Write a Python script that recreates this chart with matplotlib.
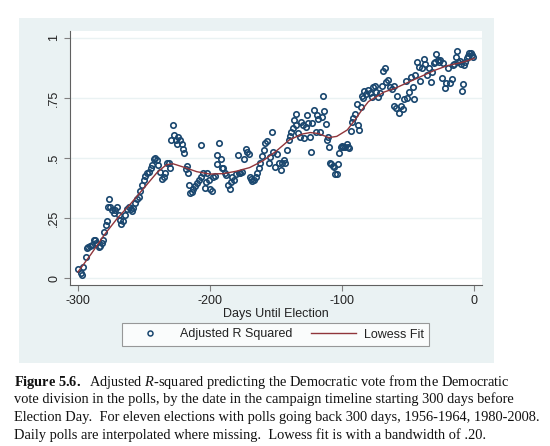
import matplotlib
matplotlib.use("Agg")
import matplotlib.pyplot as plt
from matplotlib.patches import Rectangle
from matplotlib.lines import Line2D

# daily adjusted R squared
days = [-300, -298, -297, -296, -294, -293, -292, -291, -289, -288, -287, -286, -284, -283,
        -282, -281, -280, -279, -278, -277.5, -276.5, -275.5, -274, -273, -272, -270.5, -269,
        -268, -267, -265.5, -264, -263, -261.5, -260, -259, -258, -256.5, -255, -254, -253,
        -251.5, -250, -249, -248, -246.5, -245, -244, -242.5, -241.5, -240, -239, -237.5,
        -236.5, -235, -234, -232.5, -231, -230, -229.5, -228, -227.5, -226, -225, -224,
        -222.5, -221, -220.5, -219.5, -218.5, -217.5, -217, -216, -215, -213.5, -212.5, -211,
        -210, -208.5, -207, -206.5, -205, -204, -203, -202, -201, -200, -198.5, -197.5, -196,
        -195, -194.5, -193, -192, -191, -190, -188.5, -187.5, -186, -185, -184, -183, -181.5,
        -180.5, -179, -178, -177, -175.5, -174.5, -173, -172, -170.5, -170, -169, -168, -167,
        -165.5, -164.5, -163, -162, -160.5, -159, -158, -157, -155.5, -154.5, -153, -152,
        -151, -149, -148, -146.5, -145.5, -144, -143, -141.5, -140.5, -139.5, -138.5, -137.5,
        -136.5, -135, -134.5, -133.5, -132, -131, -129.5, -128.5, -127, -126.5, -125.5, -124.5,
        -123.5, -122.5, -121, -120, -119, -118, -117, -115.5, -114.5, -113.5, -112.5, -111.5,
        -110.5, -110, -109, -108, -107, -106, -105, -104, -103, -102, -101, -100, -99, -98,
        -96.5, -95.5, -94.5, -93.5, -92.5, -91.5, -90.5, -89, -88, -87, -86, -85, -84, -83,
        -81.5, -80.5, -79, -77.5, -76.5, -75, -74, -72.5, -71.5, -70, -69, -67.5, -66.5, -65,
        -64, -62.5, -61, -60.5, -59, -58, -56.5, -55.5, -54, -53, -51.5, -50.5, -49, -48,
        -46.5, -45.5, -44.5, -43.5, -42, -41, -39.5, -38, -37, -35.5, -34.5, -33, -32, -30.5,
        -29.5, -28.5, -27.5, -26.5, -25.5, -24.5, -23.5, -22, -21, -19.5, -18, -17, -16, -15,
        -14, -13, -12, -11, -10, -9.5, -8.5, -7.5, -6.5, -5.5, -4.5, -3.5, -2.5, -1.5, -0.5]
adj_r2 = [0.036, 0.020, 0.012, 0.047, 0.086, 0.124, 0.128, 0.133, 0.138, 0.160, 0.158, 0.144,
          0.130, 0.133, 0.144, 0.160, 0.193, 0.220, 0.239, 0.294, 0.328, 0.294, 0.283, 0.272,
          0.283, 0.294, 0.262, 0.242, 0.225, 0.239, 0.262, 0.286, 0.294, 0.286, 0.281, 0.290,
          0.311, 0.328, 0.339, 0.364, 0.388, 0.408, 0.425, 0.436, 0.443, 0.457, 0.471, 0.494,
          0.499, 0.492, 0.471, 0.443, 0.411, 0.419, 0.436, 0.481, 0.478, 0.457, 0.575, 0.637,
          0.596, 0.575, 0.558, 0.586, 0.575, 0.558, 0.536, 0.519, 0.453, 0.467, 0.439, 0.388,
          0.353, 0.360, 0.369, 0.383, 0.394, 0.408, 0.422, 0.554, 0.439, 0.374, 0.401, 0.439,
          0.408, 0.369, 0.364, 0.419, 0.425, 0.475, 0.512, 0.561, 0.494, 0.457, 0.457, 0.436,
          0.429, 0.388, 0.369, 0.401, 0.422, 0.408, 0.433, 0.512, 0.439, 0.436, 0.443, 0.494,
          0.536, 0.526, 0.517, 0.422, 0.411, 0.406, 0.408, 0.419, 0.436, 0.457, 0.478, 0.508,
          0.533, 0.561, 0.572, 0.481, 0.506, 0.610, 0.526,
          0.464, 0.517, 0.481, 0.450, 0.478, 0.492, 0.478, 0.533, 0.575, 0.592, 0.610, 0.624,
          0.658, 0.638, 0.683, 0.603, 0.586, 0.651, 0.638, 0.582, 0.631, 0.679, 0.644, 0.586,
          0.526, 0.644, 0.700, 0.610, 0.679, 0.661, 0.610, 0.669, 0.758, 0.697, 0.642, 0.575,
          0.586, 0.544, 0.481, 0.475, 0.467, 0.461, 0.433, 0.433, 0.475, 0.519, 0.547, 0.550,
          0.544, 0.547, 0.558, 0.547, 0.540, 0.614, 0.651, 0.665, 0.683, 0.725, 0.638, 0.617,
          0.714, 0.758, 0.749, 0.781, 0.767, 0.783, 0.772, 0.756, 0.797, 0.800, 0.776, 0.753,
          0.769, 0.800, 0.864, 0.874, 0.818, 0.825, 0.794, 0.786, 0.800, 0.717, 0.707, 0.758,
          0.686, 0.717, 0.703, 0.744, 0.822, 0.749, 0.776, 0.836, 0.797, 0.744, 0.846, 0.901,
          0.881, 0.822, 0.874, 0.911, 0.892, 0.846, 0.874, 0.818, 0.860, 0.894, 0.901, 0.933,
          0.908, 0.901, 0.908, 0.832, 0.897, 0.790, 0.811, 0.874, 0.811, 0.828, 0.888, 0.892,
          0.919, 0.947, 0.901, 0.906, 0.892, 0.781, 0.808, 0.888, 0.901, 0.915, 0.925, 0.936,
          0.939, 0.929, 0.922]

# lowess fit (bandwidth .20)
fit_days = [-300, -290, -280, -270, -260, -250, -240, -233, -228, -220, -210, -200, -190,
            -180, -170, -160, -150, -140, -130, -124, -118, -110, -104, -96, -90, -85, -80,
            -75, -68, -60, -50, -40, -30, -20, -10, -5, 0]
fit_vals = [0.025, 0.100, 0.180, 0.250, 0.310, 0.375, 0.440, 0.472, 0.476, 0.462, 0.443,
            0.433, 0.435, 0.445, 0.460, 0.488, 0.528, 0.575, 0.600, 0.606, 0.602, 0.585,
            0.590, 0.617, 0.660, 0.700, 0.735, 0.752, 0.775, 0.790, 0.815, 0.840, 0.865,
            0.885, 0.897, 0.905, 0.915]

y_ticks = [0, 0.25, 0.5, 0.75, 1]
y_ticklabels = ['0', '.25', '.5', '.75', '1']
x_ticks = [-300, -200, -100, 0]

caption = [
    r"$\mathbf{Figure\ 5.6.}$  Adjusted $\mathit{R}$-squared predicting the Democratic vote from the Democratic",
    "vote division in the polls, by the date in the campaign timeline starting 300 days before",
    "Election Day.  For eleven elections with polls going back 300 days, 1956-1964, 1980-2008.",
    "Daily polls are interpolated where missing.  Lowess fit is with a bandwidth of .20.",
]

navy = '#1a476f'
maroon = '#90353b'
panel = '#eaf2f3'

plt.rcParams['font.family'] = 'Liberation Sans'
plt.rcParams['axes.unicode_minus'] = False
plt.rcParams['mathtext.fontset'] = 'custom'
plt.rcParams['mathtext.rm'] = 'Liberation Serif'
plt.rcParams['mathtext.it'] = 'Liberation Serif:italic'
plt.rcParams['mathtext.bf'] = 'Liberation Serif:bold'

W, H = 550, 446
fig = plt.figure(figsize=(W / 100, H / 100), dpi=100)

# Stata-like graph region
fig.patches.append(Rectangle((19 / W, 1 - 363 / H), 475 / W, 345 / H,
                             transform=fig.transFigure, facecolor=panel,
                             edgecolor='none', zorder=-5))

ax = fig.add_axes([70 / W, 1 - 285 / H, 412 / W, 254 / H])
ax.set_zorder(2)
ax.set_facecolor('white')

ax.plot(days, adj_r2, linestyle='none', marker='o', ms=3.9, mew=1.2,
        mfc='none', mec=navy, zorder=3)
ax.plot(fit_days, fit_vals, color=maroon, lw=1.0, zorder=4)

ax.set_xlim(-306, 6)
ax.set_ylim(-0.029, 1.029)
ax.set_yticks(y_ticks)
ax.set_yticklabels(y_ticklabels, rotation=90, va='center')
ax.set_xticks(x_ticks)
ax.grid(axis='y', color=panel, lw=1.0, zorder=0)
ax.set_axisbelow(True)

for s in ['top', 'right']:
    ax.spines[s].set_visible(False)
for s in ['left', 'bottom']:
    ax.spines[s].set_color('#606060')
    ax.spines[s].set_linewidth(0.8)
ax.tick_params(direction='out', length=4, width=0.8, color='#808080',
               labelsize=9, labelcolor='#222222', pad=3)

ax.set_xlabel('Days Until Election', fontsize=9, color='#222222', labelpad=1)

handles = [Line2D([], [], linestyle='none', marker='o', ms=3.6, mew=1.1,
                  mfc='none', mec=navy),
           Line2D([], [], color=maroon, lw=1.0)]
leg = fig.legend(handles, ['Adjusted R Squared', 'Lowess Fit'], ncol=2,
                 loc='center', bbox_to_anchor=(275.5 / W, 1 - 334.5 / H),
                 fontsize=9, frameon=True, fancybox=False, handlelength=3.6,
                 handletextpad=0.6, columnspacing=1.5, borderpad=0.45)
leg.get_frame().set_edgecolor('#808080')
leg.get_frame().set_linewidth(0.8)
for t in leg.get_texts():
    t.set_color('#222222')

# caption below the graph
base_y = [386, 403.5, 421, 438.5]
for line, yb in zip(caption, base_y):
    fig.text(14 / W, 1 - yb / H, line, family='Liberation Serif', fontsize=10.4,
             va='baseline', ha='left', color='#111111')

fig.savefig('out.png', dpi=100)
